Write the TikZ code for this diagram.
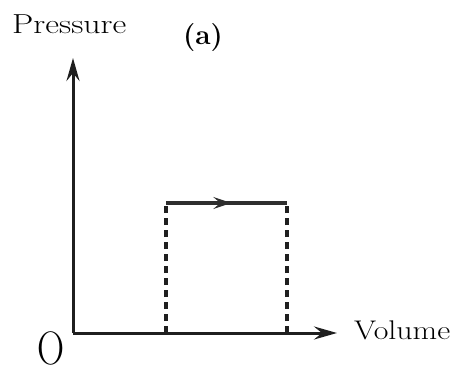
\documentclass[tikz,border=0pt]{standalone}
\usetikzlibrary{arrows.meta,decorations.markings}
\begin{document}
\begin{tikzpicture}[x=1pt,y=-1pt,
  axis/.style={line width=3pt,draw=black!88,-{Stealth[length=23pt,width=13pt,inset=8pt]}},
  dashline/.style={line width=3.2pt,draw=black!88,dash pattern=on 7pt off 5pt},
  pathline/.style={line width=3.2pt,draw=black!82,
    postaction={decorate},
    decoration={markings,mark=at position 0.54 with {\arrow{Stealth[length=18pt,width=12pt,inset=7pt]}}}},
  lbl/.style={inner sep=0pt}]
\useasboundingbox (0,0) rectangle (456,372);
\coordinate (O) at (73,333);
\coordinate (ytop) at (73,58);
\coordinate (xend) at (337,333);
\coordinate (A) at (166,203);
\coordinate (B) at (287,203);
\coordinate (A0) at (166,333);
\coordinate (B0) at (287,333);
\draw[axis] (O) -- (ytop);
\draw[axis] (O) -- (xend);
\draw[dashline] (A0) -- (A);
\draw[dashline] (B0) -- (B);
\draw[pathline] (A) -- (B);
\node[lbl,anchor=base west] (p) at (12,33) {\scalebox{1.23}[1]{\fontsize{27.5}{32}\selectfont Pressure}};
\node[lbl,anchor=base] (a) at (203,44) {\fontsize{28}{32}\selectfont\bfseries (a)};
\node[lbl,anchor=base west] (v) at (354,339) {\scalebox{1.18}[1]{\fontsize{27}{32}\selectfont Volume}};
\node[lbl,anchor=base] (o) at (51.5,364) {\scalebox{0.8}[1]{\fontsize{47}{54}\selectfont O}};
\end{tikzpicture}
\end{document}
